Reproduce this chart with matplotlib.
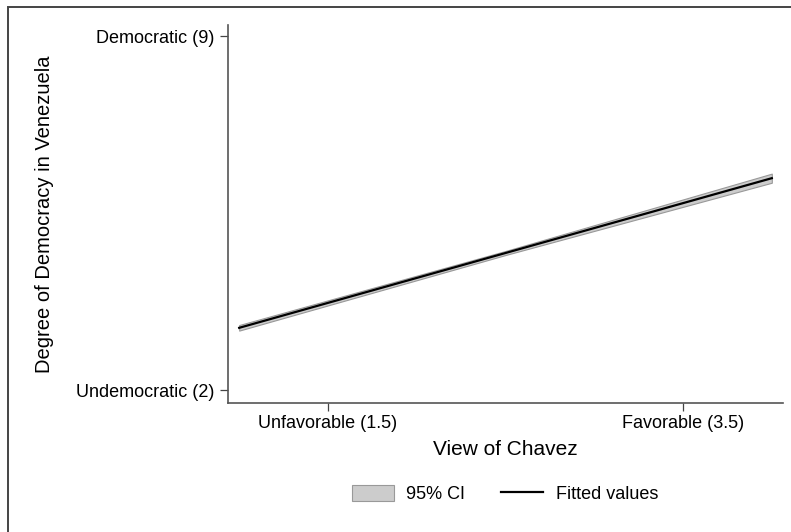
import matplotlib
matplotlib.use('Agg')
import matplotlib.pyplot as plt
from matplotlib.patches import Rectangle
from matplotlib.lines import Line2D
import numpy as np

plt.rcParams['font.family'] = ['Liberation Sans', 'DejaVu Sans']

# 拟合线与置信区间
view_x = [1.0, 2.5, 4.0]
fitted = [3.23, 4.71, 6.19]
ci_low = [3.175, 4.67, 6.10]
ci_high = [3.285, 4.75, 6.28]

x_ticks = [1.5, 3.5]
x_ticklabels = ['Unfavorable (1.5)', 'Favorable (3.5)']
y_ticks = [2, 9]
y_ticklabels = ['Undemocratic (2)', 'Democratic (9)']

W, H = 791, 532
fig = plt.figure(figsize=(W / 100, H / 100), dpi=100)
ax = fig.add_axes([228 / W, 1 - 403 / H, (783 - 228) / W, (403 - 25) / H])

ax.fill_between(view_x, ci_low, ci_high, facecolor='#cccccc', edgecolor='#999999', linewidth=0.8, zorder=2)
ax.plot(view_x, fitted, color='black', linewidth=1.6, zorder=3)

ax.set_xlim(0.937, 4.063)
ax.set_ylim(1.743, 9.22)
ax.set_xticks(x_ticks)
ax.set_xticklabels(x_ticklabels, fontsize=13)
ax.set_yticks(y_ticks)
ax.set_yticklabels(y_ticklabels, fontsize=13)
ax.tick_params(axis='both', direction='out', length=6, width=0.9, color='#444444', pad=4)
ax.tick_params(axis='x', pad=2.5)

for s in ['top', 'right']:
    ax.spines[s].set_visible(False)
for s in ['left', 'bottom']:
    ax.spines[s].set_color('#555555')
    ax.spines[s].set_linewidth(1.2)

ax.set_xlabel('View of Chavez', fontsize=15, labelpad=6)
ax.set_ylabel('Degree of Democracy in Venezuela', fontsize=14.5, labelpad=16)

# 图例
handles = [Rectangle((0, 0), 1, 1, facecolor='#cccccc', edgecolor='#999999', linewidth=0.8),
           Line2D([0], [0], color='black', linewidth=1.6)]
fig.legend(handles, ['95% CI', 'Fitted values'], loc='center', bbox_to_anchor=(505 / W, 1 - 494 / H),
           ncol=2, frameon=False, fontsize=13, handlelength=2.3, handleheight=0.95,
           handletextpad=0.7, columnspacing=2.0)

# 外框（只露出上边和左边）
fig.add_artist(Rectangle((7.5 / W, -0.05), 1.1, 1 - 6.5 / H + 0.05, transform=fig.transFigure,
                         fill=False, edgecolor='#444444', linewidth=1.4))

fig.savefig('out.png', dpi=100, facecolor='white')
